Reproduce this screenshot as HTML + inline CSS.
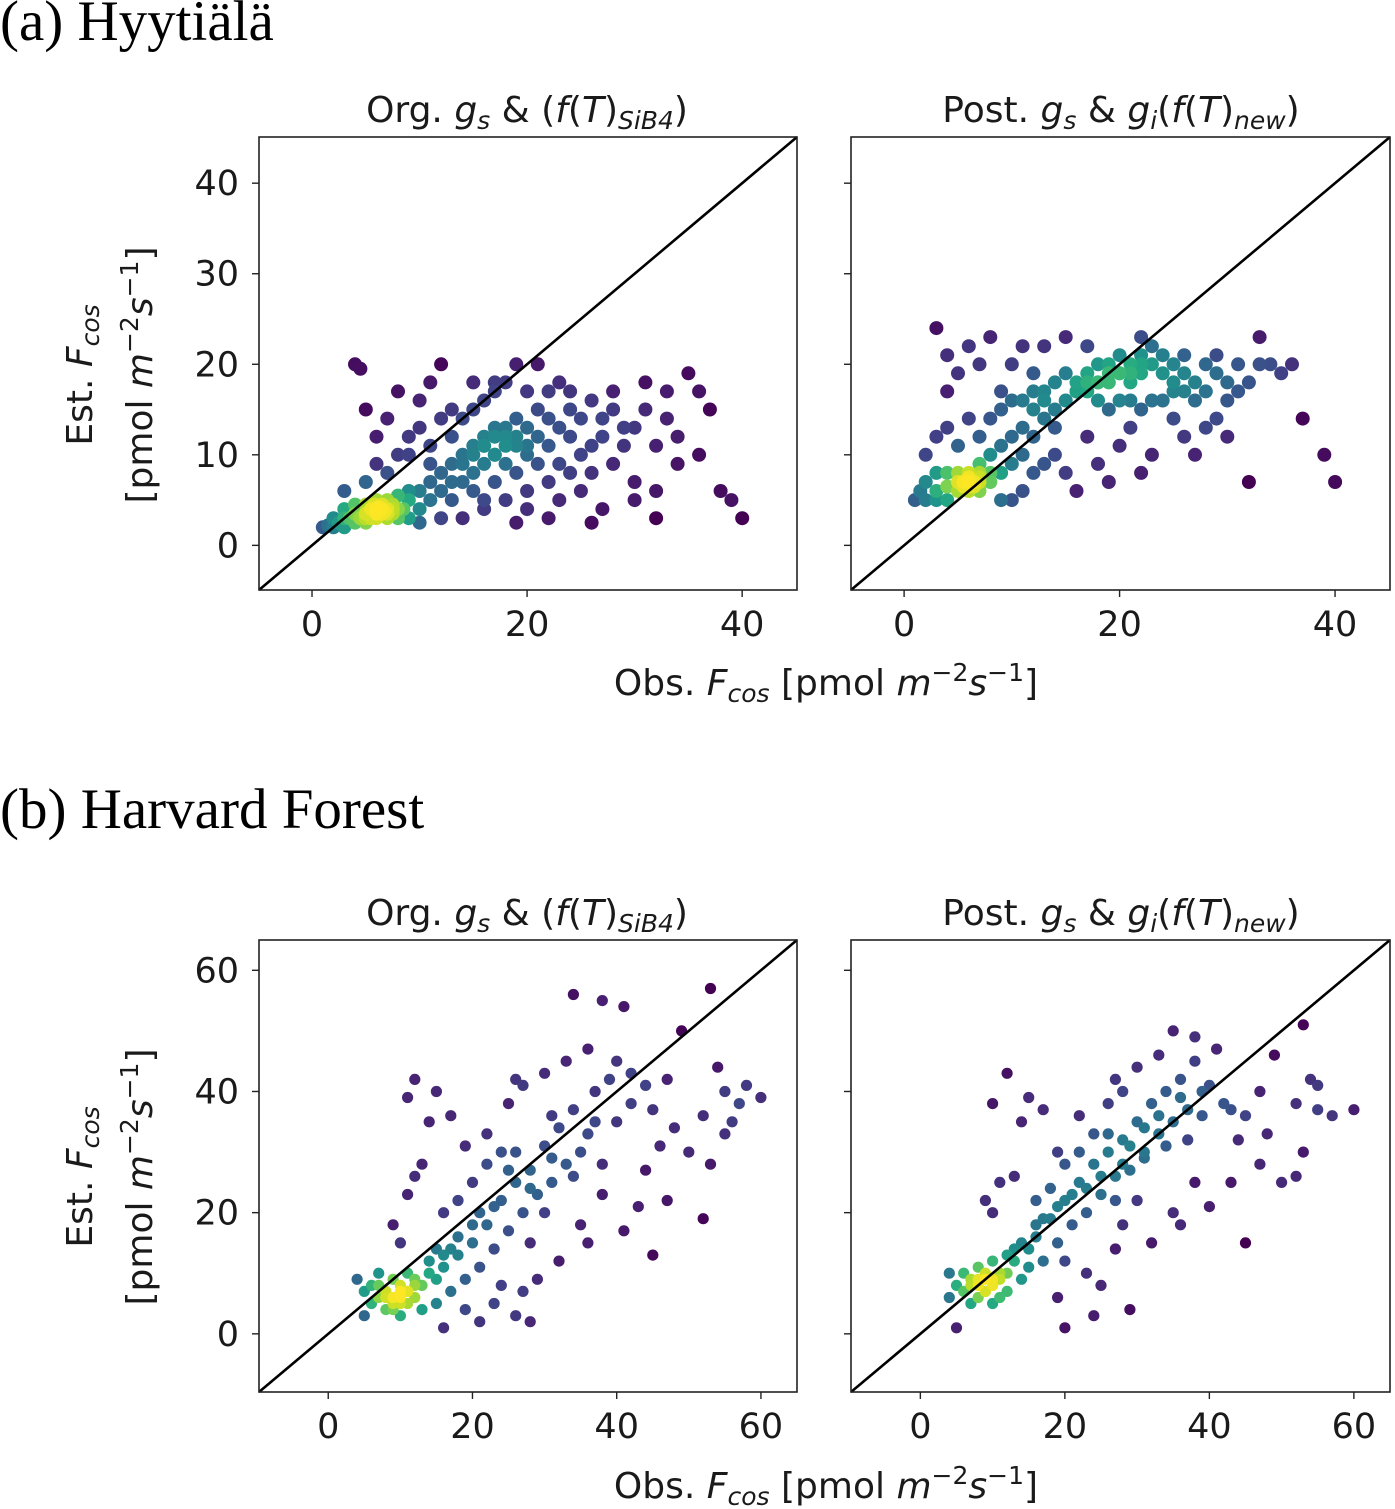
<!DOCTYPE html>
<html><head><meta charset="utf-8"><style>
html,body{margin:0;padding:0;background:#fff}
svg{display:block}
text{font-family:"DejaVu Sans","Liberation Sans",sans-serif;fill:#1a1a1a}
.serif{font-family:"Liberation Serif",serif;fill:#000}
</style></head><body>
<svg id="fig" width="1395" height="1509" viewBox="0 0 1395 1509" xmlns="http://www.w3.org/2000/svg">
<text class="serif" x="0" y="40" font-size="57">(a) Hyytiälä</text>
<text class="serif" x="0" y="828" font-size="57">(b) Harvard Forest</text>
<g font-size="36">
<text x="527" y="122" text-anchor="middle">Org. <tspan font-style="italic">g</tspan><tspan font-style="italic" font-size="25" dy="7">s</tspan><tspan dy="-7"> &amp; (</tspan><tspan font-style="italic">f</tspan>(<tspan font-style="italic">T</tspan>)<tspan font-style="italic" font-size="25" dy="7">SiB4</tspan><tspan dy="-7">)</tspan></text>
<text x="1121" y="122" text-anchor="middle">Post. <tspan font-style="italic">g</tspan><tspan font-style="italic" font-size="25" dy="7">s</tspan><tspan dy="-7"> &amp; </tspan><tspan font-style="italic">g</tspan><tspan font-style="italic" font-size="25" dy="7">i</tspan><tspan dy="-7">(</tspan><tspan font-style="italic">f</tspan>(<tspan font-style="italic">T</tspan>)<tspan font-style="italic" font-size="25" dy="7">new</tspan><tspan dy="-7">)</tspan></text>
<text x="527" y="925" text-anchor="middle">Org. <tspan font-style="italic">g</tspan><tspan font-style="italic" font-size="25" dy="7">s</tspan><tspan dy="-7"> &amp; (</tspan><tspan font-style="italic">f</tspan>(<tspan font-style="italic">T</tspan>)<tspan font-style="italic" font-size="25" dy="7">SiB4</tspan><tspan dy="-7">)</tspan></text>
<text x="1121" y="925" text-anchor="middle">Post. <tspan font-style="italic">g</tspan><tspan font-style="italic" font-size="25" dy="7">s</tspan><tspan dy="-7"> &amp; </tspan><tspan font-style="italic">g</tspan><tspan font-style="italic" font-size="25" dy="7">i</tspan><tspan dy="-7">(</tspan><tspan font-style="italic">f</tspan>(<tspan font-style="italic">T</tspan>)<tspan font-style="italic" font-size="25" dy="7">new</tspan><tspan dy="-7">)</tspan></text>
<text x="826" y="695" text-anchor="middle">Obs. <tspan font-style="italic">F</tspan><tspan font-style="italic" font-size="25" dy="7">cos</tspan><tspan dy="-7"> [pmol </tspan><tspan font-style="italic">m</tspan><tspan font-size="25" dy="-14">−2</tspan><tspan font-style="italic" dy="14">s</tspan><tspan font-size="25" dy="-14">−1</tspan><tspan dy="14">]</tspan></text>
<text x="826" y="1498" text-anchor="middle">Obs. <tspan font-style="italic">F</tspan><tspan font-style="italic" font-size="25" dy="7">cos</tspan><tspan dy="-7"> [pmol </tspan><tspan font-style="italic">m</tspan><tspan font-size="25" dy="-14">−2</tspan><tspan font-style="italic" dy="14">s</tspan><tspan font-size="25" dy="-14">−1</tspan><tspan dy="14">]</tspan></text>
<g transform="translate(92,375) rotate(-90)">
<text x="0" y="0" text-anchor="middle">Est. <tspan font-style="italic">F</tspan><tspan font-style="italic" font-size="25" dy="7">cos</tspan></text>
<text x="0" y="60" text-anchor="middle">[pmol <tspan font-style="italic">m</tspan><tspan font-size="25" dy="-14">−2</tspan><tspan font-style="italic" dy="14">s</tspan><tspan font-size="25" dy="-14">−1</tspan><tspan dy="14">]</tspan></text>
</g>
<g transform="translate(92,1177) rotate(-90)">
<text x="0" y="0" text-anchor="middle">Est. <tspan font-style="italic">F</tspan><tspan font-style="italic" font-size="25" dy="7">cos</tspan></text>
<text x="0" y="60" text-anchor="middle">[pmol <tspan font-style="italic">m</tspan><tspan font-size="25" dy="-14">−2</tspan><tspan font-style="italic" dy="14">s</tspan><tspan font-size="25" dy="-14">−1</tspan><tspan dy="14">]</tspan></text>
</g>
</g>
</svg>
<script>
// ---- data (obs x, est y) ----
const hyyOrgX=[1,1.5,2,2,2.5,3,3,3,3.5,4,4,4,4.5,5,5,5,5.5,5.5,6,6,6,6.5,6.5,7,7,7,7.5,7.5,8,8,8,8.5,9,9,9,10,10,10,11,11,12,12,13,13,14,14,15,15,16,16,17,17,18,18,19,19,20,20,21,21,22,22,23,24,24,25,13,14,15,12,11,16,17,18,20,22,23,19,25,26,27,28,28,30,30,31,32,32,33,34,35,36,37,38,39,40,32,30,27,25,23,20,18,16,14,12,4,4.5,5,6,7,8,9,10,11,12,13,15,17,21,24,26,28,29,31,33,34,36,26,22,19,8,7,5,3,6,9,10,11,13,15,17,19,21,23,26,24,27,29,22,20,16,5.5,6.5,6,7,5,6.2,6.8,5.8,4.5,7.5,16,17,18,15,19,20,17,16,18,14];
const hyyOrgY=[2,2.2,2,3,2.5,2,3,4,3,2.5,3.5,4.5,3,2.5,3.5,4.5,3,4,3,4,5,3.5,4.5,3,4,5,3.5,4.5,3,4,5.5,4,3,5,6,2.5,4,6,5,7,6,8,5,9,7,10,8,11,9,12,10,13,9,12,11,14,10,13,12,15,11,14,13,12,15,14,12,14,15,14,11,16,17,18,17,17,18,20,10,8,12,15,9,13,7,15,11,6,17,12,19,17,15,6,5,3,3,5,4,6,5,4,5,4,3,3,20,19.5,15,12,14,17,10,16,18,20,15,18,18,20,17,16,17,11,18,14,9,10,2.5,3,2.5,10,8,7,6,9,12,13,9,7,6,7,8,9,9,11,8,14,13,7,6,5,4,4,3.5,3.5,3,4.2,3.8,4.5,3,4,11,12,11,10,12,11,10,11,13,9];
const hyyPostX=[1,1.5,2,2,3,3,3,4,4,4,5,5,5,5.5,6,6,6,6.5,7,7,7,8,8,8,9,9,10,10,11,11,12,12,13,13,14,14,15,15,16,16,17,17,18,18,19,19,20,20,21,21,22,22,23,24,24,25,25,26,27,28,29,30,31,33,34,35,36,37,39,40,32,30,29,28,27,26,25,23,22,21,20,19,18,17,16,15,14,13,12,11,10,9,3,4,4,5,6,7,8,9,10,11,12,13,15,14,3,4,5,6,7,2,8,9,10,11,12,13,17,18,19,20,21,22,23,24,25,26,27,28,30,31,32,33,29,23,22,26,5.5,6,6.5,7,5,6,7,18,19,20,17,21,16,22];
const hyyPostY=[5,6,5,7,5,6,8,5,6.5,8,6,7,8,6.5,6,7,8,7,6,7.5,9,7,8,10,8,11,9,12,10,13,12,15,14,17,15,18,16,19,17,18,17,19,18,20,18,20,19,21,18,20,19,21,20,19,21,18,20,19,18,20,19,18,17,23,20,19,20,14,10,7,7,12,14,13,10,12,14,10,8,13,11,7,9,12,6,8,10,9,8,6,5,5,24,21,17,19,22,20,23,15,20,22,19,22,23,13,12,13,11,14,12,10,14,17,16,16,17,16,22,16,15,16,16,15,16,16,17,17,16,17,16,20,18,20,21,22,23,21,7,7.5,6.5,7,7,6.5,8,18,19,19,18,19,17,20];
const hvOrgX=[4,5,5,6,6,7,7,8,8,9,9,10,10,10,11,11,11,12,12,13,13,14,15,15,16,17,18,19,20,21,22,23,24,25,26,27,28,29,30,31,32,33,34,35,36,37,38,39,40,42,44,46,47,49,50,52,53,54,55,56,58,60,34,38,41,36,33,30,27,25,22,20,18,15,12,11,17,14,19,13,16,12,11,9,10,23,26,28,24,21,16,22,26,28,30,32,35,38,41,43,45,36,29,27,19,31,24,26,40,44,48,52,47,55,53,57,45,42,37,34,31,28,25,23,21,20,18,17,16,15,14,9,10,11,8,9,10,12,7];
const hvOrgY=[9,7,3,5,8,6,10,4,7,5,9,6,8,3,5,7,10,6,9,4,8,12,9,5,11,7,13,9,15,11,18,14,22,17,25,20,27,23,31,25,34,28,37,30,33,40,28,42,35,38,41,31,22,50,30,36,57,44,33,35,41,39,56,55,54,47,45,43,41,38,28,25,22,40,42,39,36,35,31,28,20,26,23,18,15,5,3,2,8,2,1,33,30,15,20,12,18,23,17,21,13,15,9,7,4,36,30,42,45,27,34,19,42,40,28,38,37,43,35,26,29,24,27,21,20,18,16,14,13,14,10,6,5,7,6,4,7,8,8];
const hvPostX=[4,4,5,5,6,6,7,7,8,8,8,9,9,10,10,10,11,11,12,12,13,14,15,15,16,17,18,19,20,21,22,23,24,25,26,27,28,29,30,31,32,33,34,35,36,37,38,39,40,42,45,47,49,50,52,53,54,55,57,60,35,38,41,33,30,28,26,22,20,18,15,12,10,17,14,19,13,16,11,10,9,20,23,25,29,24,20,22,26,28,30,32,35,38,40,43,45,36,27,19,31,24,27,44,48,52,47,55,53,43,37,34,31,28,25,23,21,19,17,16,14,13,12,27,29,33,36,39,9,10,11,8,9,10,7];
const hvPostY=[10,6,8,1,7,10,5,9,6,8,11,7,10,8,5,12,6,9,10,7,12,9,14,11,16,12,19,15,22,18,25,20,28,23,30,26,32,27,35,29,38,33,40,35,42,37,45,40,41,38,36,28,46,25,38,51,42,37,36,37,50,49,47,46,44,40,38,36,28,24,39,43,38,37,35,30,26,22,25,20,22,12,10,8,4,3,1,30,33,18,22,15,20,25,21,25,15,18,14,6,34,33,42,32,33,26,40,41,30,37,32,31,30,28,26,24,23,21,19,18,15,14,13,22,31,36,39,36,9,8,10,9,7,9,8];
const ticksA=[0,10,20,30,40];
const ticksAX=[0,20,40];
const ticksB=[0,20,40,60];

const svg=document.getElementById('fig');
const NS='http://www.w3.org/2000/svg';
function mk(tag,attrs,parent){const e=document.createElementNS(NS,tag);for(const k in attrs)e.setAttribute(k,attrs[k]);(parent||svg).appendChild(e);return e;}
const vir=[[68,1,84],[72,35,116],[64,67,135],[52,94,141],[41,120,142],[32,144,140],[34,167,132],[68,190,112],[121,209,81],[189,222,38],[253,231,37]];
function viridis(t){t=Math.max(0,Math.min(1,t));const s=t*(vir.length-1);const i=Math.min(vir.length-2,Math.floor(s));const f=s-i;const a=vir[i],b=vir[i+1];return 'rgb('+[0,1,2].map(k=>Math.round(a[k]+(b[k]-a[k])*f)).join(',')+')';}

function panel(name,box,dom,xs,ys,xt,yt,showY,rad){
  const [x0,y0,x1,y1]=box,[d0,d1]=dom;
  const sx=v=>x0+(v-d0)/(d1-d0)*(x1-x0);
  const sy=v=>y1-(v-d0)/(d1-d0)*(y1-y0);
  const g=mk('g',{});
  
  
  const r=(d1-d0)*0.06;
  const dens=xs.map((x,i)=>{let c=0;for(let j=0;j<xs.length;j++){const dx=xs[j]-x,dy=ys[j]-ys[i];const d2=dx*dx+dy*dy;c+=Math.exp(-d2/(2*r*r*0.35));}return c;});
  const mx=Math.max(...dens),mn=Math.min(...dens);
  const order=xs.map((_,i)=>i).sort((a,b)=>dens[a]-dens[b]);
  order.forEach(i=>{
    const c=mk('circle',{cx:sx(xs[i]).toFixed(1),cy:sy(ys[i]).toFixed(1),r:rad,fill:viridis(Math.pow((dens[i]-mn)/(mx-mn),0.8))},g);
    
    
  });
  const ln=mk('line',{x1:x0,y1:y1,x2:x1,y2:y0,stroke:'#000','stroke-width':2.6},g);
  
  
  const fr=mk('rect',{x:x0,y:y0,width:x1-x0,height:y1-y0,fill:'none',stroke:'#222','stroke-width':1.6},g);
  
  
  xt.forEach(v=>{
    mk('line',{x1:sx(v),x2:sx(v),y1:y1,y2:y1+7,stroke:'#222','stroke-width':1.4},g);
    const t=mk('text',{x:sx(v),y:y1+46,'font-size':35,'text-anchor':'middle'},g);t.textContent=v;
    
    
  });
  yt.forEach(v=>{
    mk('line',{x1:x0-7,x2:x0,y1:sy(v),y2:sy(v),stroke:'#222','stroke-width':1.4},g);
    if(showY){const t=mk('text',{x:x0-20,y:sy(v)+12,'font-size':35,'text-anchor':'end'},g);t.textContent=v;
    
    }
  });
}
panel('hyytiala-org-panel',[259,137,797,590],[-4.93,45.1],hyyOrgX,hyyOrgY,ticksAX,ticksA,true,7);
panel('hyytiala-post-panel',[851,137,1390,590],[-4.93,45.1],hyyPostX,hyyPostY,ticksAX,ticksA,false,7);
panel('harvard-org-panel',[259,940,797,1392],[-9.6,65],hvOrgX,hvOrgY,ticksB,ticksB,true,5.6);
panel('harvard-post-panel',[851,940,1390,1392],[-9.6,65],hvPostX,hvPostY,ticksB,ticksB,false,5.6);
</script>
</body></html>
